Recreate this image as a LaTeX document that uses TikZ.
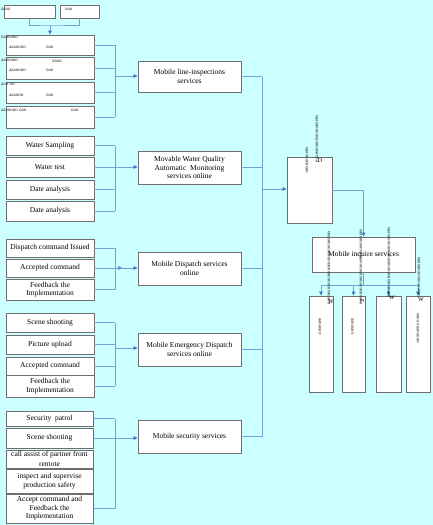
\documentclass[tikz,border=0pt]{standalone}
\usepackage{fontspec}
\setmainfont{Liberation Serif}
\usetikzlibrary{arrows.meta}
\definecolor{bg}{RGB}{204,255,255}
\definecolor{ln}{RGB}{110,165,215}
\definecolor{tipc}{RGB}{60,110,200}
\definecolor{bd}{RGB}{110,110,110}
\begin{document}
\begin{tikzpicture}[x=1pt,y=-1pt,
 box/.style={draw=bd,fill=white,line width=0.6pt,inner sep=1pt,align=center,font=\fontsize{7.5}{8.6}\selectfont},
 conn/.style={draw=ln,line width=0.6pt},
 arr/.style={conn,-{Latex[length=4pt,width=4pt,color=tipc]}},
 garb/.style={font=\fontsize{5}{5}\selectfont,inner sep=0pt,text=black!85},
 gend/.style={font=\fontsize{6}{6}\selectfont,inner sep=0pt}]
\fill[bg] (0,0) rectangle (433,525);
\useasboundingbox (0,0) rectangle (433,525);

% ---- top boxes
\node[box,minimum width=51pt,minimum height=13pt] (tA) at (29.5,11.5) {};
\node[box,minimum width=39pt,minimum height=13pt] (tB) at (79.5,11.5) {};
\node[garb,anchor=west] (tAt) at (1,9) {aaoa};
\node[garb,anchor=west] (tBt) at (65,9.5) {oaa};
\coordinate (T) at (50,25);

% ---- group 1
\node[box,minimum width=88pt,minimum height=20pt] (g1a) at (50,45) {};
\node[box,minimum width=88pt,minimum height=22pt] (g1b) at (50,68) {};
\node[box,minimum width=88pt,minimum height=21pt] (g1c) at (50,92.5) {};
\node[box,minimum width=88pt,minimum height=22pt] (g1d) at (50,117) {};
\node[garb,anchor=west] (g1at1) at (1,37) {oaaoaoo};
\node[garb,anchor=west] (g1at2) at (9,47) {aaaoooo};
\node[garb,anchor=west] (g1at3) at (46,47) {oao};
\node[garb,anchor=west] (g1bt1) at (1,60) {aaooaoo};
\node[garb,anchor=west] (g1bt2) at (52,61) {oaao};
\node[garb,anchor=west] (g1bt3) at (9,70) {aaaoooo};
\node[garb,anchor=west] (g1bt4) at (46,70) {oao};
\node[garb,anchor=west] (g1ct1) at (1,84) {aoo oo};
\node[garb,anchor=west] (g1ct2) at (9,95) {aaaooo};
\node[garb,anchor=west] (g1ct3) at (46,95) {oao};
\node[garb,anchor=west] (g1dt1) at (1,110) {aaaoooo oao};
\node[garb,anchor=west] (g1dt2) at (71,110) {oao};

\node[box,minimum width=103pt,minimum height=31pt] (m1) at (189.5,76.5) {Mobile line-inspections\\services};

% ---- group 2
\node[box,minimum width=88pt,minimum height=19pt] (g2a) at (50,145.5) {Water Sampling};
\node[box,minimum width=88pt,minimum height=20pt] (g2b) at (50,167) {Water test};
\node[box,minimum width=88pt,minimum height=19pt] (g2c) at (50,189.5) {Date analysis};
\node[box,minimum width=88pt,minimum height=20pt] (g2d) at (50,211) {Date analysis};
\node[box,minimum width=103pt,minimum height=33pt] (m2) at (189.5,167.5) {Movable Water Quality\\Automatic\ \ Monitoring\\services online};

% ---- group 3
\node[box,minimum width=88pt,minimum height=18pt] (g3a) at (50,248) {Dispatch command Issued};
\node[box,minimum width=88pt,minimum height=18pt] (g3b) at (50,268) {Accepted command};
\node[box,minimum width=88pt,minimum height=21pt] (g3c) at (50,289.5) {Feedback the\\Implementation};
\node[box,minimum width=103pt,minimum height=33pt] (m3) at (189.5,268.5) {Mobile Dispatch services\\online};

% ---- group 4
\node[box,minimum width=88pt,minimum height=19pt] (g4a) at (50,322.5) {Scene shooting};
\node[box,minimum width=88pt,minimum height=19pt] (g4b) at (50,344.5) {Picture upload};
\node[box,minimum width=88pt,minimum height=18pt] (g4c) at (50,366) {Accepted command};
\node[box,minimum width=88pt,minimum height=22pt] (g4d) at (50,386) {Feedback the\\Implementation};
\node[box,minimum width=103pt,minimum height=33pt] (m4) at (189.5,349.5) {Mobile Emergency Dispatch\\services online};

% ---- group 5
\node[box,minimum width=87pt,minimum height=15pt] (g5a) at (49.5,418.5) {Security\ \ patrol};
\node[box,minimum width=87pt,minimum height=20pt] (g5b) at (49.5,438) {Scene shooting};
\node[box,minimum width=87pt,minimum height=18pt] (g5c) at (49.5,459) {};
\node[inner sep=0pt,align=center,font=\fontsize{7.5}{10.5}\selectfont,anchor=north] (g5ct) at (49.5,451) {call assist of partner from\\remote};
\node[box,minimum width=87pt,minimum height=24pt] (g5d) at (49.5,481) {inspect and supervise\\production safety};
\node[box,minimum width=87pt,minimum height=29pt] (g5e) at (49.5,508.5) {Accept command and\\Feedback the\\Implementation};
\node[box,minimum width=103pt,minimum height=33pt] (m5) at (189.5,436.5) {Mobile security services};

% ---- right side
\node[box,minimum width=45pt,minimum height=66pt] (C) at (309.5,190) {};
\node[box,minimum width=103pt,minimum height=35pt] (I) at (363.5,254.5) {Mobile inquire services};
\node[box,minimum width=24pt,minimum height=96pt] (b1) at (321,344) {};
\node[box,minimum width=23pt,minimum height=96pt] (b2) at (353.5,344) {};
\node[box,minimum width=25pt,minimum height=96pt] (b3) at (388.5,344) {};
\node[box,minimum width=24pt,minimum height=96pt] (b4) at (418,344) {};

% ---- connectors group 1
\draw[conn] (tA.south) |- (T) -| (tB.south);
\draw[arr] (T) -- (g1a.north);
\coordinate (k1) at (115,76);
\foreach \n in {g1a,g1b,g1c,g1d} \draw[conn] (\n.east) -- (\n.east -| k1);
\draw[conn] (g1a.east -| k1) -- (g1d.east -| k1);
\draw[arr] (k1) -- (k1 -| m1.west);

% ---- group 2
\coordinate (k2) at (115,167.5);
\foreach \n in {g2a,g2b,g2c,g2d} \draw[conn] (\n.east) -- (\n.east -| k2);
\draw[conn] (g2a.east -| k2) -- (g2d.east -| k2);
\draw[arr] (g2b.east) -- (g2b.east -| m2.west);

% ---- group 3
\coordinate (k3) at (115,268);
\foreach \n in {g3a,g3b,g3c} \draw[conn] (\n.east) -- (\n.east -| k3);
\draw[conn] (g3a.east -| k3) -- (g3c.east -| k3);
\draw[arr] (g3b.east) -- ++(28,0);
\draw[arr] (k3) -- (k3 -| m3.west);

% ---- group 4
\coordinate (k4) at (115,348);
\foreach \n in {g4a,g4b,g4c,g4d} \draw[conn] (\n.east) -- (\n.east -| k4);
\draw[conn] (g4a.east -| k4) -- (g4d.east -| k4);
\draw[arr] (k4) -- (k4 -| m4.west);

% ---- group 5
\coordinate (k5) at (115,438);
\foreach \n in {g5a,g5b,g5e} \draw[conn] (\n.east) -- (\n.east -| k5);
\draw[conn] (g5a.east -| k5) -- (g5e.east -| k5);
\draw[arr] (g5b.east) -- (g5b.east -| m5.west);

% ---- main bus
\coordinate (B) at (262,189);
\foreach \n in {m1,m2,m3,m4,m5} \draw[conn] (\n.east) -- (\n.east -| B);
\draw[conn] (m1.east -| B) -- (m5.east -| B);
\draw[arr] (B) -- (B -| C.west);
\draw[arr] (C.east) -| (I.north);
\coordinate (J) at (363.5,285);
\draw[conn] (I.south) -- (J);
\draw[conn] (b1.north |- J) -- (b4.north |- J);
\foreach \n in {b1,b2,b3,b4} \draw[arr] (\n.north |- J) -- (\n.north);

% ---- garbled vertical labels
\node[garb,rotate=-90,anchor=west] (v1) at (317,115) {oaaoaoaoaoaoaoaoaooa};
\node[gend] (v1e) at (320,161) {D};
\node[garb,rotate=-90,anchor=west] (v2) at (307,147) {oaaooaoaoao};
\node[garb,rotate=-90,anchor=west] (v3) at (329,231) {oaaoaoaoaooaoaaoaoaoaoaoaoaoaoa};
\node[gend] (v3e) at (331,302) {W};
\node[garb,rotate=-90,anchor=west] (v4) at (361,229) {oaaoaoaaooaoaaoaoaoaoaoaoaoaoaoa};
\node[gend,rotate=-90] (v4e) at (362,301) {E};
\node[garb,rotate=-90,anchor=west] (v5) at (389,227) {oaaoaoaoaooaoaoaoaoaoaoaoaoaoa};
\node[gend] (v5e) at (392,298) {W};
\node[garb,rotate=-90,anchor=west] (v6) at (419,257) {oaaoaoaooaoaoaoao};
\node[gend] (v6e) at (421,300) {W};
\node[garb,rotate=-90,anchor=west] (v7) at (320,318) {aaoaoao};
\node[garb,rotate=-90,anchor=west] (v8) at (352.5,318) {aaoaoao};
\node[garb,rotate=-90,anchor=west] (v9) at (418,313) {oaoa oaaoaoao};
\end{tikzpicture}
\end{document}
